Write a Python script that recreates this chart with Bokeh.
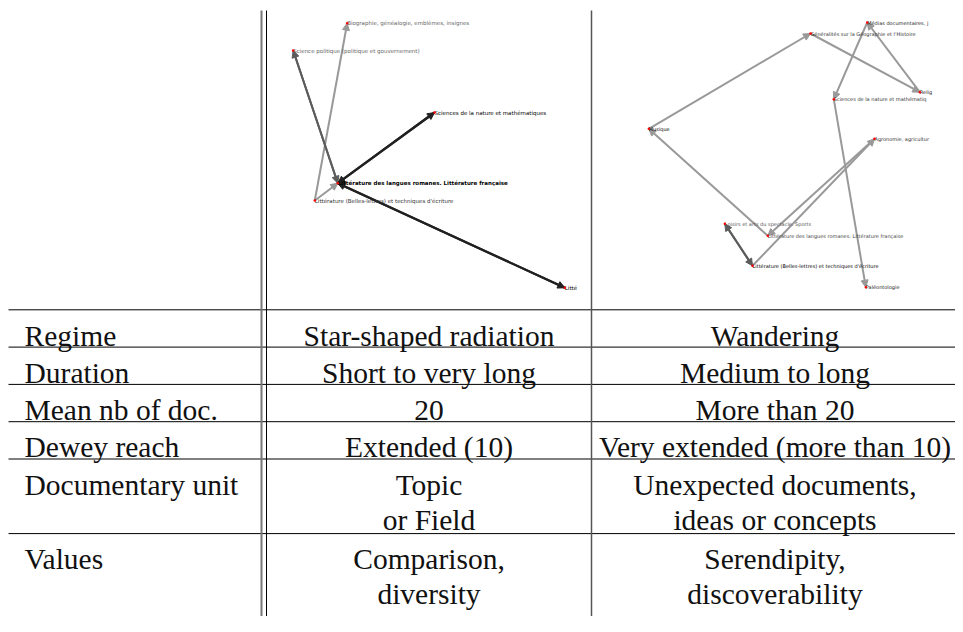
from bokeh.plotting import figure
from bokeh.models import Range1d, Arrow, NormalHead, ColumnDataSource
from bokeh.embed import file_html
from bokeh.resources import INLINE
from bokeh.core.properties import value

# ---------------- table data ----------------
row_labels = ["Regime", "Duration", "Mean nb of doc.", "Dewey reach",
              "Documentary unit", "Values"]
star_cells = [["Star-shaped radiation"], ["Short to very long"], ["20"],
              ["Extended (10)"], ["Topic", "or Field"], ["Comparison,", "diversity"]]
wander_cells = [["Wandering"], ["Medium to long"], ["More than 20"],
                ["Very extended (more than 10)"],
                ["Unexpected documents,", "ideas or concepts"],
                ["Serendipity,", "discoverability"]]

# ---------------- graph 1: star-shaped radiation ----------------
star_nodes = ["Biographie, généalogie, emblèmes, insignes",
              "Science politique (politique et gouvernement)",
              "Sciences de la nature et mathématiques",
              "Littérature des langues romanes. Littérature française",
              "Littérature (Belles-lettres) et techniques d'écriture",
              "Litté"]
star_x = [80.7, 26.7, 168.0, 71.3, 48.3, 298.3]
star_y = [12.7, 40.0, 102.0, 172.7, 190.0, 277.3]
star_from = [4, 4, 3, 2, 3, 1, 3, 5]
star_to = [0, 3, 2, 3, 1, 3, 5, 3]
star_count = [1, 1, 2, 2, 1, 1, 2, 2]

# ---------------- graph 2: wandering ----------------
wander_nodes = ["Médias documentaires, j",
                "Généralités sur la Géographie et l'Histoire",
                "Relig",
                "Sciences de la nature et mathématiq",
                "Musique",
                "Agronomie, agricultur",
                "Loisirs et arts du spectacle. Sports",
                "Littérature des langues romanes. Littérature française",
                "Littérature (Belles-lettres) et techniques d'écriture",
                "Paléontologie"]
wander_x = [275.7, 219.0, 328.3, 242.3, 57.3, 283.0, 133.3, 176.3, 161.0, 274.3]
wander_y = [12.0, 23.0, 81.7, 88.7, 118.3, 128.3, 213.3, 225.3, 255.3, 276.7]
wander_from = [8, 6, 8, 5, 7, 4, 1, 2, 0, 3]
wander_to = [6, 8, 5, 7, 4, 1, 2, 0, 3, 9]
wander_count = [1, 1, 1, 1, 1, 1, 1, 1, 1, 1]

# ---------------- styles ----------------
W, H = 955, 616
X0, X1, Y0, Y1 = 0, W, H, 0
STAR_ORIGIN = (266, 10)
WANDER_ORIGIN = (591, 10)
TABLE_TOP = 309.3
ROW_H = 37.3
LINE_GAP = 35.0
BASE_OFF = 25.7
COL_LEFT_TEXT = 24
COL_BOUNDS = [8, 261, 591, 958]
SERIF = value("Liberation Serif")
SANS = value("DejaVu Sans")
FONT_PX = "29.5px"

star_label_colors = ["#666666", "#666666", "#000000", "#000000", "#333333", "#000000"]
star_bold = [False, False, False, True, False, False]
wander_label_colors = ["#222222", "#333333", "#222222", "#333333", "#000000",
                       "#333333", "#555555", "#444444", "#000000", "#222222"]

p = figure(width=W, height=H, x_range=Range1d(X0, X1), y_range=Range1d(Y0, Y1),
           output_backend="svg", toolbar_location=None, min_border=0,
           x_axis_location=None, y_axis_location=None)
p.grid.visible = False
p.outline_line_color = None
p.background_fill_color = "white"
p.border_fill_color = "white"


def add_graph(name, origin, nodes, xs, ys, efrom, eto, ecount, font_px,
              label_colors, bold):
    ox, oy = origin
    p.extra_x_ranges[name] = Range1d(X0 - ox, X1 - ox)
    p.extra_y_ranges[name] = Range1d(Y0 - oy, Y1 - oy)
    pair = {}
    for a, b, c in zip(efrom, eto, ecount):
        k = frozenset((a, b))
        pair[k] = pair.get(k, 0) + c
    for a, b in zip(efrom, eto):
        n = pair[frozenset((a, b))]
        g = int(round(255 * 0.6 ** n))
        col = "#%02x%02x%02x" % (g, g, g)
        src = ColumnDataSource(dict(x0=[xs[a]], y0=[ys[a]], x1=[xs[b]], y1=[ys[b]]))
        arr = Arrow(end=NormalHead(size=7, fill_color=col, line_color=col, line_width=1),
                    x_start="x0", y_start="y0", x_end="x1", y_end="y1", source=src,
                    line_color=col, line_width=2.2 if n >= 4 else 2,
                    x_range_name=name, y_range_name=name, level="underlay")
        p.add_layout(arr)
    src = ColumnDataSource(dict(x=xs, y=ys, t=nodes, c=label_colors,
                                s=["bold" if b else "normal" for b in bold]))
    p.text(x="x", y="y", text="t", source=src, text_color="c", text_font=SANS,
           text_font_style="s", text_font_size=font_px, text_align="left",
           text_baseline="middle", x_range_name=name, y_range_name=name)
    p.scatter(x=xs, y=ys, size=2.5, color="red", line_width=0,
              x_range_name=name, y_range_name=name)


add_graph("star", STAR_ORIGIN, star_nodes, star_x, star_y, star_from, star_to,
          star_count, "5.5px", star_label_colors, star_bold)
add_graph("wander", WANDER_ORIGIN, wander_nodes, wander_x, wander_y, wander_from,
          wander_to, wander_count, "5px", wander_label_colors, [False] * len(wander_nodes))

# ---------------- table ----------------
row_lines = [max(len(a), len(b)) for a, b in zip(star_cells, wander_cells)]
tops = [TABLE_TOP]
for n in row_lines[:-1]:
    tops.append(tops[-1] + n * ROW_H)
p.segment(x0=[COL_BOUNDS[0]] * len(tops), y0=tops, x1=[X1] * len(tops), y1=tops,
          line_color="black", line_width=1)

p.segment(x0=[COL_BOUNDS[1]], y0=[10], x1=[COL_BOUNDS[1]], y1=[Y0],
          line_color="#777777", line_width=2)
p.segment(x0=[COL_BOUNDS[1] + 5], y0=[10], x1=[COL_BOUNDS[1] + 5], y1=[Y0],
          line_color="black", line_width=1)
p.segment(x0=[COL_BOUNDS[2]], y0=[10], x1=[COL_BOUNDS[2]], y1=[Y0],
          line_color="#555555", line_width=1.5)

lx, ly, lt = [], [], []
for lab, top in zip(row_labels, tops):
    lx.append(COL_LEFT_TEXT); ly.append(top + BASE_OFF); lt.append(lab)
p.text(x=lx, y=ly, text=lt, text_font=SERIF, text_font_size=FONT_PX,
       text_color="#111111", text_align="left", text_baseline="alphabetic")

c2 = (COL_BOUNDS[1] + 5 + COL_BOUNDS[2]) / 2
c3 = (COL_BOUNDS[2] + COL_BOUNDS[3]) / 2
cx, cy, ct = [], [], []
for cells, cxx in ((star_cells, c2), (wander_cells, c3)):
    for lines, top in zip(cells, tops):
        for k, t in enumerate(lines):
            cx.append(cxx); cy.append(top + BASE_OFF + k * LINE_GAP); ct.append(t)
p.text(x=cx, y=cy, text=ct, text_font=SERIF, text_font_size=FONT_PX,
       text_color="#111111", text_align="center", text_baseline="alphabetic")

open("out.html", "w").write(file_html(p, INLINE))
